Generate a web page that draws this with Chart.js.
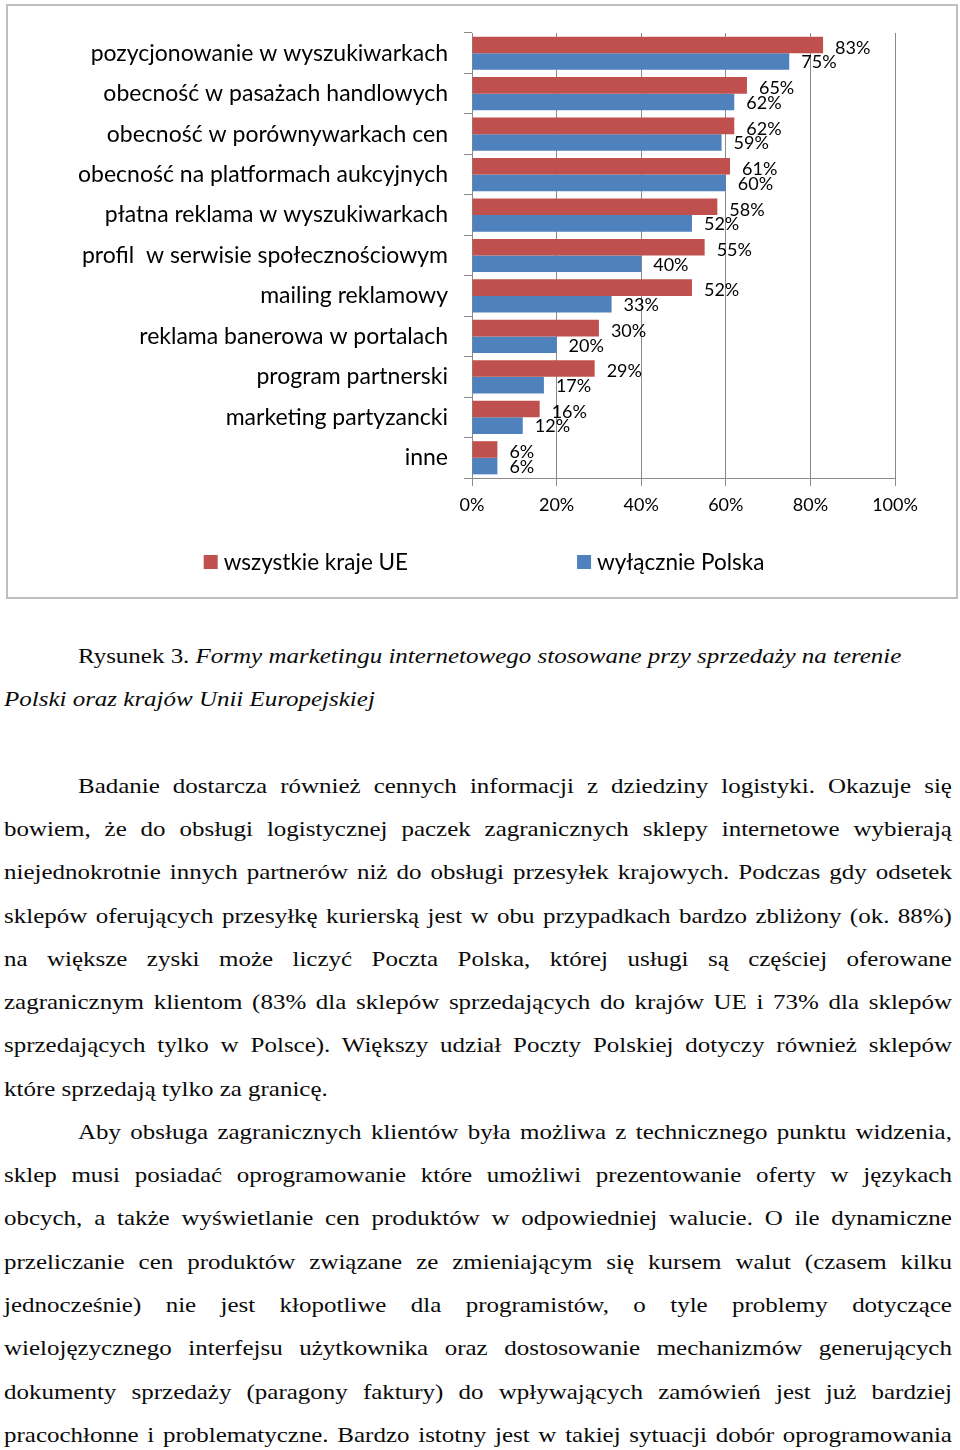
<!DOCTYPE html>
<html>
<head>
<meta charset="utf-8">
<script src="https://cdn.jsdelivr.net/npm/chart.js@4.4.0/dist/chart.umd.min.js"></script>
<style>
body{margin:0;background:#fff;width:960px;height:1450px;overflow:hidden;position:relative;}
#box{position:absolute;left:6px;top:4px;width:952px;height:595px;border:2px solid #bfbfbf;box-sizing:border-box;}
#wrap{position:absolute;left:0;top:0;width:948px;height:591px;}
/* the page text is a bit wider than plain Times, so stretch it horizontally */
#text{position:absolute;left:4px;top:634px;width:835.2px;transform:scaleX(1.135);transform-origin:0 0;font-family:"Liberation Serif","Times New Roman",serif;font-size:22px;line-height:43.28px;color:#0a0a0a;}
#text div{white-space:nowrap;height:43.28px;}
.j{text-align:justify;text-align-last:justify;white-space:normal!important;}
.in{padding-left:65.2px;}
</style>
</head>
<body>
<div id="box"><div id="wrap"><canvas id="chart"></canvas></div></div>

<div id="text">
<div class="in">Rysunek 3. <i>Formy marketingu internetowego stosowane przy sprzedaży na terenie</i></div>
<div><i>Polski oraz krajów Unii Europejskiej</i></div>
<div></div>
<div class="j in">Badanie dostarcza również cennych informacji z dziedziny logistyki. Okazuje się</div>
<div class="j">bowiem, że do obsługi logistycznej paczek zagranicznych sklepy internetowe wybierają</div>
<div class="j">niejednokrotnie innych partnerów niż do obsługi przesyłek krajowych. Podczas gdy odsetek</div>
<div class="j">sklepów oferujących przesyłkę kurierską jest w obu przypadkach bardzo zbliżony (ok. 88%)</div>
<div class="j">na większe zyski może liczyć Poczta Polska, której usługi są częściej oferowane</div>
<div class="j">zagranicznym klientom (83% dla sklepów sprzedających do krajów UE i 73% dla sklepów</div>
<div class="j">sprzedających tylko w Polsce). Większy udział Poczty Polskiej dotyczy również sklepów</div>
<div>które sprzedają tylko za granicę.</div>
<div class="j in">Aby obsługa zagranicznych klientów była możliwa z technicznego punktu widzenia,</div>
<div class="j">sklep musi posiadać oprogramowanie które umożliwi prezentowanie oferty w językach</div>
<div class="j">obcych, a także wyświetlanie cen produktów w odpowiedniej walucie. O ile dynamiczne</div>
<div class="j">przeliczanie cen produktów związane ze zmieniającym się kursem walut (czasem kilku</div>
<div class="j">jednocześnie) nie jest kłopotliwe dla programistów, o tyle problemy dotyczące</div>
<div class="j">wielojęzycznego interfejsu użytkownika oraz dostosowanie mechanizmów generujących</div>
<div class="j">dokumenty sprzedaży (paragony faktury) do wpływających zamówień jest już bardziej</div>
<div class="j">pracochłonne i problematyczne. Bardzo istotny jest w takiej sytuacji dobór oprogramowania</div>
</div>

<script>
var categories = [
    'pozycjonowanie w wyszukiwarkach',
    'obecność w pasażach handlowych',
    'obecność w porównywarkach cen',
    'obecność na platformach aukcyjnych',
    'płatna reklama w wyszukiwarkach',
    'profil  w serwisie społecznościowym',
    'mailing reklamowy',
    'reklama banerowa w portalach',
    'program partnerski',
    'marketing partyzancki',
    'inne'
];
var euValues = [83, 65, 62, 61, 58, 55, 52, 30, 29, 16, 6];
var plValues = [75, 62, 59, 60, 52, 40, 33, 20, 17, 12, 6];
var seriesNames = ['wszystkie kraje UE', 'wyłącznie Polska'];
var tickValues = [0, 20, 40, 60, 80, 100];

var red = '#C0504D';
var blue = '#4F81BD';
var gridColor = '#8a8a8a';

// percentage labels next to the bar ends
var valueLabels = {
    id: 'valueLabels',
    afterDatasetsDraw: function(chart) {
        var ctx = chart.ctx;
        ctx.save();
        ctx.font = '18px Lato';
        ctx.fillStyle = '#000';
        ctx.textAlign = 'left';
        ctx.textBaseline = 'middle';
        chart.data.datasets.forEach(function(ds, i) {
            chart.getDatasetMeta(i).data.forEach(function(bar, j) {
                ctx.fillText(ds.data[j] + '%', bar.x + 12, bar.y + (i === 0 ? 3 : 1));
            });
        });
        ctx.restore();
    }
};

// Excel-like legend with wide gap between the two entries
var wideLegend = {
    id: 'wideLegend',
    afterDraw: function(chart) {
        var ctx = chart.ctx;
        var box = 14, gapText = 6, gap = 169, y = 556;
        ctx.save();
        ctx.font = '22.5px Lato';
        ctx.textBaseline = 'middle';
        ctx.fillStyle = '#000';
        var items = chart.data.datasets.map(function(ds) {
            return { text: ds.label, color: ds.backgroundColor, w: box + gapText + ctx.measureText(ds.label).width };
        });
        var total = items[0].w + gap + items[1].w;
        var x = chart.width / 2 - total / 2 + 2;
        items.forEach(function(it) {
            ctx.fillStyle = it.color;
            ctx.fillRect(x, y - box / 2, box, box);
            ctx.fillStyle = '#000';
            ctx.fillText(it.text, x + box + gapText, y + 1);
            x += it.w + gap;
        });
        ctx.restore();
    }
};

function draw() {
    var ctx = document.getElementById('chart').getContext('2d');
    new Chart(ctx, {
        type: 'bar',
        data: {
            labels: categories,
            datasets: [{
                label: seriesNames[0],
                data: euValues,
                backgroundColor: red,
                borderWidth: 0
            }, {
                label: seriesNames[1],
                data: plValues,
                backgroundColor: blue,
                borderWidth: 0
            }]
        },
        options: {
            indexAxis: 'y',
            responsive: true,
            maintainAspectRatio: false,
            animation: false,
            categoryPercentage: 0.82,
            barPercentage: 1.0,
            layout: { padding: { top: 27, right: 61, bottom: 80, left: 0 } },
            plugins: {
                legend: { display: false },
                tooltip: { enabled: false }
            },
            scales: {
                x: {
                    min: 0,
                    max: 100,
                    afterBuildTicks: function(s) {
                        s.ticks = tickValues.map(function(v) { return { value: v }; });
                    },
                    grid: { color: gridColor, tickLength: 8, lineWidth: 1 },
                    border: { color: gridColor },
                    ticks: {
                        color: '#000',
                        padding: 8,
                        font: { family: 'Lato', size: 18 },
                        callback: function(v) { return v + '%'; }
                    },
                    afterFit: function(s) {
                        s.height = 39;
                        s.paddingLeft = 0;
                        s.paddingRight = 0;
                    }
                },
                y: {
                    grid: { drawOnChartArea: false, tickLength: 8, color: gridColor, offset: true },
                    border: { color: gridColor },
                    ticks: {
                        color: '#000',
                        padding: 16,
                        autoSkip: false,
                        font: { family: 'Lato', size: 23 }
                    },
                    afterFit: function(s) {
                        s.width = 464;
                        s.paddingTop = 0;
                        s.paddingBottom = 0;
                    }
                }
            }
        },
        plugins: [valueLabels, wideLegend]
    });
}

if (document.fonts && document.fonts.load) {
    Promise.all([document.fonts.load('22px Lato'), document.fonts.load('22px "Liberation Serif"')])
        .then(draw, draw);
} else {
    draw();
}
</script>
</body>
</html>
